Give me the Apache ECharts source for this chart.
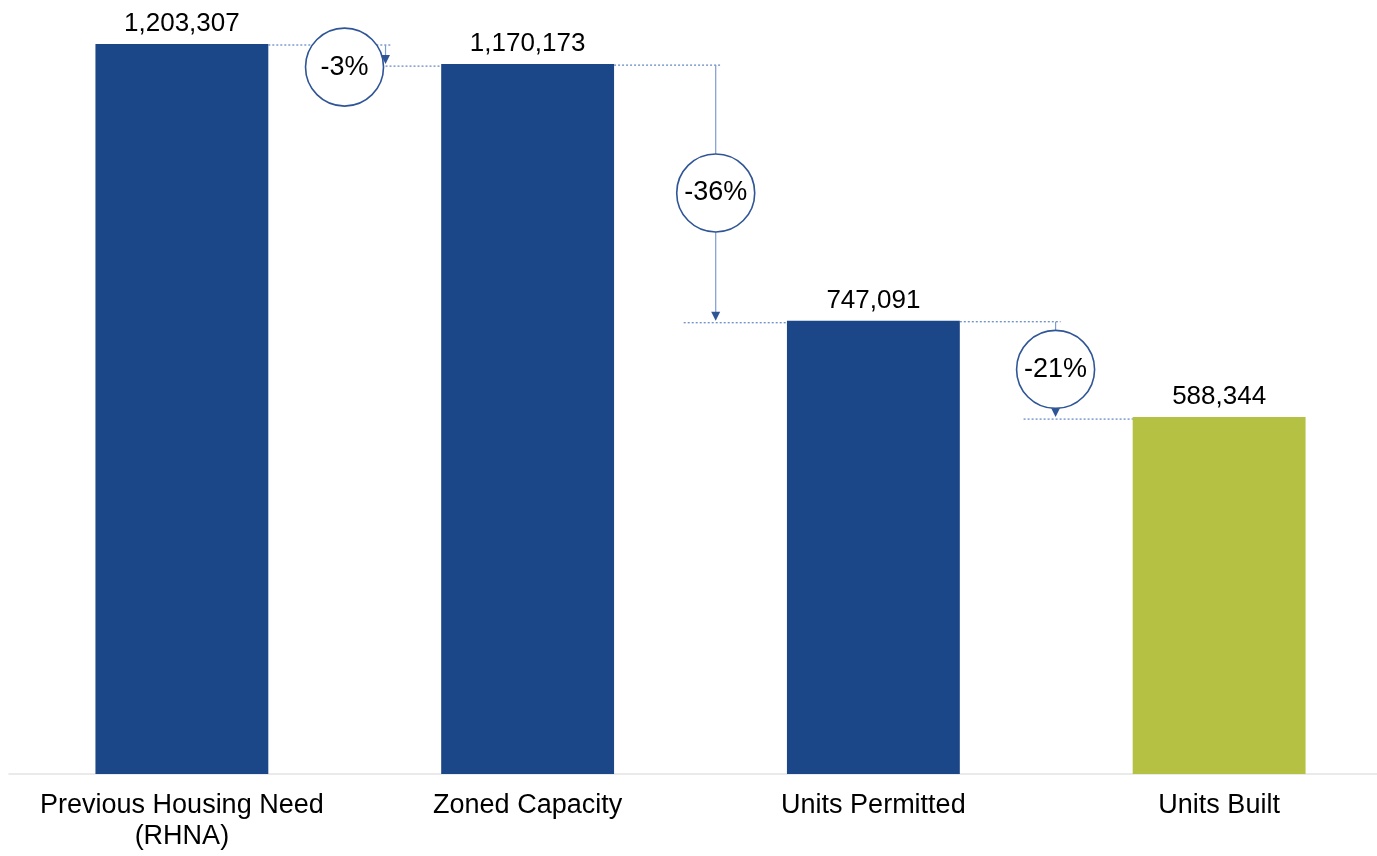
<!DOCTYPE html>
<html>
<head>
<meta charset="utf-8">
<script src="https://cdn.jsdelivr.net/npm/echarts@6/dist/echarts.min.js"></script>
<style>
html,body{margin:0;padding:0;background:#fff;overflow:hidden;}
#chart{width:1392px;height:856px;}
</style>
</head>
<body>
<div id="chart"></div>
<script>
var categories = ['Previous Housing Need\n(RHNA)', 'Zoned Capacity', 'Units Permitted', 'Units Built'];
var values = [1203307, 1170173, 747091, 588344];
var barColors = ['#1b4789', '#1b4789', '#1b4789', '#b5c143'];

var FONT = "'Liberation Sans', Arial, sans-serif";
var chart = echarts.init(document.getElementById('chart'));

chart.setOption({
  animation: false,
  backgroundColor: '#ffffff',
  grid: { left: 9, right: 0, top: 44, bottom: 82, containLabel: false },
  xAxis: {
    type: 'category',
    data: categories,
    axisLine: { show: true, lineStyle: { color: '#e4e4e4', width: 1.5 } },
    axisTick: { show: false },
    axisLabel: { fontSize: 27, color: '#000000', fontFamily: FONT, lineHeight: 31, margin: 16, interval: 0 }
  },
  yAxis: {
    type: 'value', min: 0, max: values[0], show: false,
    splitLine: { show: false }
  },
  series: [{
    type: 'bar',
    barWidth: '50%',
    data: values.map(function (v, i) { return { value: v, itemStyle: { color: barColors[i] } }; }),
    label: {
      show: true, position: 'top', distance: 7,
      fontSize: 26, color: '#000000', fontFamily: FONT,
      formatter: function (p) { return p.value.toLocaleString('en-US'); }
    }
  }]
});

// annotations computed from data via the chart's own scales
var arrowFrac = [0.589, 0.544, 0.527];
var R = 39;
var els = [];
var dotted = { stroke: '#3f6bb5', lineWidth: 1, lineDash: [2, 2] };
for (var i = 0; i < values.length - 1; i++) {
  var pA = chart.convertToPixel({ gridIndex: 0 }, [i, values[i]]);
  var pB = chart.convertToPixel({ gridIndex: 0 }, [i + 1, values[i + 1]]);
  var s = pB[0] - pA[0];
  var h = s * 0.25;
  var ax = pA[0] + s * arrowFrac[i];
  var yA = pA[1] + 1, yB = pB[1] + 2;
  var pct = Math.round((values[i + 1] - values[i]) / values[i] * 100) + '%';
  var big = (yB - yA) > 60;
  var cx = big ? ax : ax - R - 2;
  var cy = big ? (yA + yB) / 2 - 1 : yB + 1;
  // upper dotted
  els.push({ type: 'line', shape: { x1: pA[0] + h, y1: yA, x2: ax + 5, y2: yA }, style: dotted, z: 10 });
  // lower dotted
  els.push({ type: 'line', shape: { x1: big ? ax - 32 : ax, y1: yB, x2: pB[0] - h, y2: yB }, style: dotted, z: 10 });
  // vertical arrow line
  els.push({ type: 'line', shape: { x1: ax, y1: yA, x2: ax, y2: yB - 8 }, style: { stroke: '#7d9ccf', lineWidth: 1.2 }, z: 11 });
  // arrowhead
  els.push({ type: 'polygon', shape: { points: [[ax - 4.5, yB - 11], [ax + 4.5, yB - 11], [ax, yB - 2]] }, style: { fill: '#2f5597' }, z: 12 });
  // circle
  els.push({ type: 'circle', shape: { cx: cx, cy: cy, r: R }, style: { fill: '#ffffff', stroke: '#2f5597', lineWidth: 1.6 }, z: 13 });
  els.push({ type: 'text', x: cx, y: cy, style: { text: pct, fontSize: 27, fontFamily: FONT, fill: '#000000', align: 'center', verticalAlign: 'middle' }, z: 14 });
}
chart.setOption({ graphic: { elements: els } });
</script>
</body>
</html>
